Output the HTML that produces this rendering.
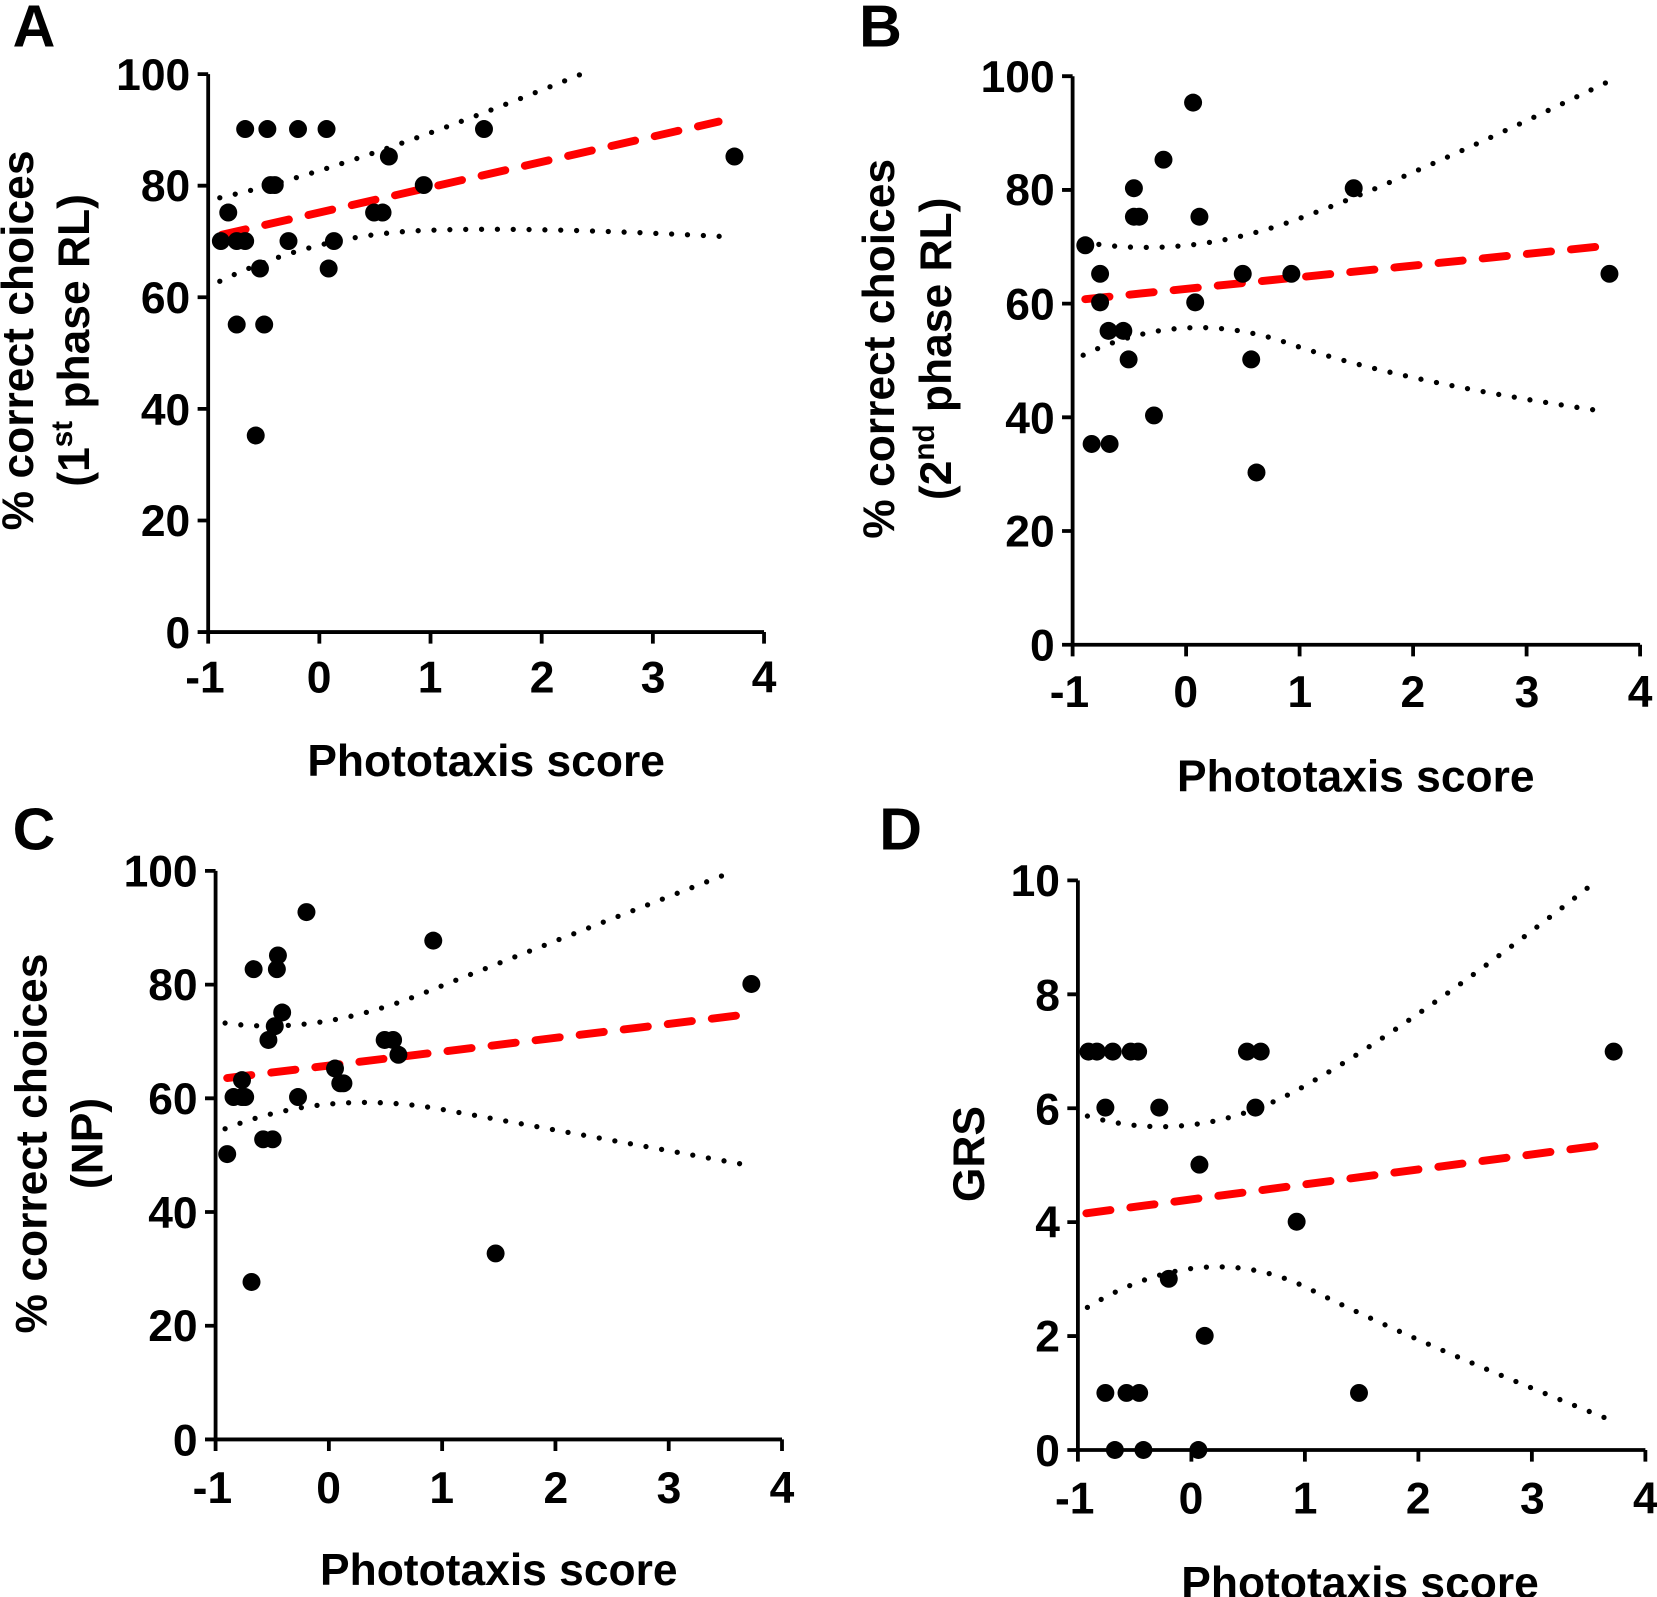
<!DOCTYPE html>
<html><head><meta charset="utf-8"><style>
html,body{margin:0;padding:0;background:#fff}
svg{display:block}
text{font-family:"Liberation Sans",Arial,sans-serif;font-weight:bold;fill:#000}
.ax{stroke:#000;stroke-width:3.6;fill:none}
.tk{font-size:42px}
.ttl{font-size:42px}
.pl{font-size:56px}
.rd{stroke:#f00;stroke-width:7.5;stroke-dasharray:23 19;fill:none;stroke-linecap:round}
.dt{stroke:#000;stroke-width:5;stroke-dasharray:0 15;stroke-linecap:round;fill:none}
</style></head><body>
<svg width="1657" height="1597" viewBox="0 0 1568 1511" xmlns="http://www.w3.org/2000/svg">
<!-- Panel A -->
<text class="pl" x="12" y="44">A</text>
<path class="ax" d="M197,70V598H723 M187,70H197 M187,175.6H197 M187,281.2H197 M187,386.8H197 M187,492.4H197 M187,598H197 M197,598v11 M302.2,598v11 M407.4,598v11 M512.6,598v11 M617.8,598v11 M723,598v11"/>
<g class="tk" text-anchor="end"><text x="180" y="85">100</text><text x="180" y="190">80</text><text x="180" y="296">60</text><text x="180" y="402">40</text><text x="180" y="507">20</text><text x="180" y="613">0</text></g>
<g class="tk" text-anchor="middle"><text x="194" y="655">-1</text><text x="302" y="655">0</text><text x="407" y="655">1</text><text x="513" y="655">2</text><text x="618" y="655">3</text><text x="723" y="655">4</text></g>
<text class="ttl" x="460" y="734" text-anchor="middle">Phototaxis score</text>
<text class="ttl" transform="translate(31,322) rotate(-90)" text-anchor="middle">% correct choices</text>
<text class="ttl" transform="translate(84,322) rotate(-90)" text-anchor="middle">(1<tspan font-size="28" dy="-16">st</tspan><tspan dy="16"> phase RL)</tspan></text>
<path class="dt" d="M208,187 Q330,160 550,70"/>
<path class="dt" d="M208,266 Q300,222 400,218 T690,224"/>
<path class="rd" d="M210,222L680,115"/>
<g fill="#000">
<circle cx="209" cy="228" r="8.5"/><circle cx="216" cy="201" r="8.5"/><circle cx="224" cy="228" r="8.5"/><circle cx="224" cy="307" r="8.5"/><circle cx="232" cy="228" r="8.5"/><circle cx="232" cy="122" r="8.5"/><circle cx="242" cy="412" r="8.5"/><circle cx="246" cy="254" r="8.5"/><circle cx="250" cy="307" r="8.5"/><circle cx="253" cy="122" r="8.5"/><circle cx="256" cy="175" r="8.5"/><circle cx="260" cy="175" r="8.5"/><circle cx="273" cy="228" r="8.5"/><circle cx="282" cy="122" r="8.5"/><circle cx="309" cy="122" r="8.5"/><circle cx="311" cy="254" r="8.5"/><circle cx="316" cy="228" r="8.5"/><circle cx="354" cy="201" r="8.5"/><circle cx="362" cy="201" r="8.5"/><circle cx="368" cy="148" r="8.5"/><circle cx="401" cy="175" r="8.5"/><circle cx="458" cy="122" r="8.5"/><circle cx="695" cy="148" r="8.5"/>
</g>
<!-- Panel B -->
<text class="pl" x="813" y="44">B</text>
<path class="ax" d="M1015,72V610H1552 M1005,72H1015 M1005,179.6H1015 M1005,287.2H1015 M1005,394.8H1015 M1005,502.4H1015 M1005,610H1015 M1015,610v11 M1122.4,610v11 M1229.8,610v11 M1337.2,610v11 M1444.6,610v11 M1552,610v11"/>
<g class="tk" text-anchor="end"><text x="998" y="87">100</text><text x="998" y="194">80</text><text x="998" y="302">60</text><text x="998" y="410">40</text><text x="998" y="517">20</text><text x="998" y="625">0</text></g>
<g class="tk" text-anchor="middle"><text x="1012" y="669">-1</text><text x="1122" y="669">0</text><text x="1230" y="669">1</text><text x="1337" y="669">2</text><text x="1445" y="669">3</text><text x="1552" y="669">4</text></g>
<text class="ttl" x="1283" y="749" text-anchor="middle">Phototaxis score</text>
<text class="ttl" transform="translate(846,330) rotate(-90)" text-anchor="middle">% correct choices</text>
<text class="ttl" transform="translate(900,330) rotate(-90)" text-anchor="middle">(2<tspan font-size="28" dy="-16">nd</tspan><tspan dy="16"> phase RL)</tspan></text>
<path class="dt" d="M1025,229 Q1120,245 1220,210 T1520,78"/>
<path class="dt" d="M1025,336 Q1120,290 1220,325 T1510,388"/>
<path class="rd" d="M1027,283L1515,233"/>
<g fill="#000">
<circle cx="1027" cy="232" r="8.5"/><circle cx="1041" cy="259" r="8.5"/><circle cx="1041" cy="286" r="8.5"/><circle cx="1033" cy="420" r="8.5"/><circle cx="1050" cy="420" r="8.5"/><circle cx="1049" cy="313" r="8.5"/><circle cx="1063" cy="313" r="8.5"/><circle cx="1068" cy="340" r="8.5"/><circle cx="1073" cy="178" r="8.5"/><circle cx="1073" cy="205" r="8.5"/><circle cx="1078" cy="205" r="8.5"/><circle cx="1092" cy="393" r="8.5"/><circle cx="1101" cy="151" r="8.5"/><circle cx="1129" cy="97" r="8.5"/><circle cx="1131" cy="286" r="8.5"/><circle cx="1135" cy="205" r="8.5"/><circle cx="1176" cy="259" r="8.5"/><circle cx="1184" cy="340" r="8.5"/><circle cx="1189" cy="447" r="8.5"/><circle cx="1222" cy="259" r="8.5"/><circle cx="1281" cy="178" r="8.5"/><circle cx="1523" cy="259" r="8.5"/>
</g>
<!-- Panel C -->
<text class="pl" x="12" y="804">C</text>
<path class="ax" d="M204,824V1362H740 M194,824H204 M194,931.6H204 M194,1039.2H204 M194,1146.8H204 M194,1254.4H204 M194,1362H204 M204,1362v11 M311.2,1362v11 M418.4,1362v11 M525.6,1362v11 M632.8,1362v11 M740,1362v11"/>
<g class="tk" text-anchor="end"><text x="187" y="839">100</text><text x="187" y="946">80</text><text x="187" y="1054">60</text><text x="187" y="1162">40</text><text x="187" y="1269">20</text><text x="187" y="1377">0</text></g>
<g class="tk" text-anchor="middle"><text x="201" y="1422">-1</text><text x="311" y="1422">0</text><text x="418" y="1422">1</text><text x="526" y="1422">2</text><text x="633" y="1422">3</text><text x="740" y="1422">4</text></g>
<text class="ttl" x="472" y="1500" text-anchor="middle">Phototaxis score</text>
<text class="ttl" transform="translate(44,1082) rotate(-90)" text-anchor="middle">% correct choices</text>
<text class="ttl" transform="translate(97,1082) rotate(-90)" text-anchor="middle">(NP)</text>
<path class="dt" d="M213,968 Q300,980 400,940 T685,828"/>
<path class="dt" d="M213,1068 Q310,1030 420,1050 T705,1102"/>
<path class="rd" d="M215,1020L705,960"/>
<g fill="#000">
<circle cx="215" cy="1092" r="8.5"/><circle cx="221" cy="1038" r="8.5"/><circle cx="229" cy="1022" r="8.5"/><circle cx="229" cy="1038" r="8.5"/><circle cx="232" cy="1038" r="8.5"/><circle cx="238" cy="1213" r="8.5"/><circle cx="240" cy="917" r="8.5"/><circle cx="249" cy="1078" r="8.5"/><circle cx="254" cy="984" r="8.5"/><circle cx="258" cy="1078" r="8.5"/><circle cx="260" cy="971" r="8.5"/><circle cx="263" cy="904" r="8.5"/><circle cx="262" cy="917" r="8.5"/><circle cx="267" cy="958" r="8.5"/><circle cx="282" cy="1038" r="8.5"/><circle cx="290" cy="863" r="8.5"/><circle cx="317" cy="1011" r="8.5"/><circle cx="322" cy="1025" r="8.5"/><circle cx="325" cy="1025" r="8.5"/><circle cx="364" cy="984" r="8.5"/><circle cx="372" cy="984" r="8.5"/><circle cx="377" cy="998" r="8.5"/><circle cx="410" cy="890" r="8.5"/><circle cx="469" cy="1186" r="8.5"/><circle cx="711" cy="931" r="8.5"/>
</g>
<!-- Panel D -->
<text class="pl" x="832" y="804">D</text>
<path class="ax" d="M1020,833V1372H1557 M1010,833H1020 M1010,940.8H1020 M1010,1048.6H1020 M1010,1156.4H1020 M1010,1264.2H1020 M1010,1372H1020 M1020,1372v11 M1127.4,1372v11 M1234.8,1372v11 M1342.2,1372v11 M1449.6,1372v11 M1557,1372v11"/>
<g class="tk" text-anchor="end"><text x="1003" y="848">10</text><text x="1003" y="956">8</text><text x="1003" y="1064">6</text><text x="1003" y="1171">4</text><text x="1003" y="1279">2</text><text x="1003" y="1387">0</text></g>
<g class="tk" text-anchor="middle"><text x="1017" y="1432">-1</text><text x="1127" y="1432">0</text><text x="1235" y="1432">1</text><text x="1342" y="1432">2</text><text x="1450" y="1432">3</text><text x="1557" y="1432">4</text></g>
<text class="ttl" x="1287" y="1512" text-anchor="middle">Phototaxis score</text>
<text class="ttl" transform="translate(931,1092) rotate(-90)" text-anchor="middle">GRS</text>
<path class="dt" d="M1029,1056 Q1130,1085 1230,1030 T1505,838"/>
<path class="dt" d="M1029,1237 Q1140,1170 1240,1220 T1520,1342"/>
<path class="rd" d="M1028,1148L1520,1083"/>
<g fill="#000">
<circle cx="1030" cy="995" r="8.5"/><circle cx="1038" cy="995" r="8.5"/><circle cx="1046" cy="1048" r="8.5"/><circle cx="1046" cy="1318" r="8.5"/><circle cx="1053" cy="995" r="8.5"/><circle cx="1055" cy="1372" r="8.5"/><circle cx="1066" cy="1318" r="8.5"/><circle cx="1070" cy="995" r="8.5"/><circle cx="1077" cy="995" r="8.5"/><circle cx="1078" cy="1318" r="8.5"/><circle cx="1082" cy="1372" r="8.5"/><circle cx="1097" cy="1048" r="8.5"/><circle cx="1106" cy="1210" r="8.5"/><circle cx="1135" cy="1102" r="8.5"/><circle cx="1134" cy="1372" r="8.5"/><circle cx="1140" cy="1264" r="8.5"/><circle cx="1180" cy="995" r="8.5"/><circle cx="1188" cy="1048" r="8.5"/><circle cx="1193" cy="995" r="8.5"/><circle cx="1227" cy="1156" r="8.5"/><circle cx="1286" cy="1318" r="8.5"/><circle cx="1527" cy="995" r="8.5"/>
</g>
</svg>
</body></html>
